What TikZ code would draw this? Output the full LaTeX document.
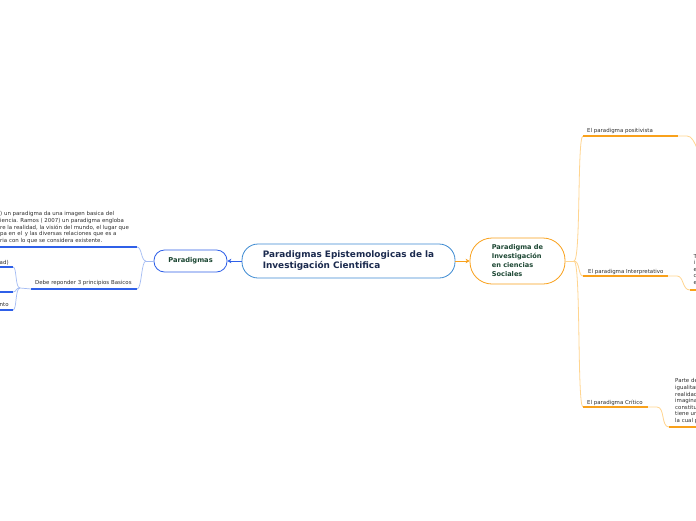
\documentclass[tikz,border=0pt]{standalone}
\usepackage{fontspec}
\setmainfont{DejaVu Sans}
\usetikzlibrary{arrows.meta}
\definecolor{blueA}{HTML}{2F60E8}
\definecolor{blueL}{HTML}{A3BBF3}
\definecolor{blueC}{HTML}{3C8AD2}
\definecolor{orA}{HTML}{F9A11B}
\definecolor{orL}{HTML}{FFD590}
\definecolor{navy}{HTML}{1B2A4E}
\definecolor{dgreen}{HTML}{1B4632}
\definecolor{txt}{HTML}{2E2E2E}
\tikzset{
  mainbox/.style={draw=blueC, line width=0.8pt, rounded corners=16pt, minimum width=213pt, minimum height=34pt, inner sep=0pt, align=left, text=navy, font=\fontsize{8.9}{11}\selectfont\bfseries},
  parbox/.style={draw=blueA, line width=0.8pt, rounded corners=10.5pt, minimum width=73pt, minimum height=22pt, inner sep=0pt, text=dgreen, font=\fontsize{6.7}{8}\selectfont\bfseries},
  socbox/.style={draw=orA, line width=0.8pt, rounded corners=22pt, minimum width=95pt, minimum height=46pt, inner sep=0pt, align=left, text=dgreen, font=\fontsize{6.6}{9}\selectfont\bfseries},
  small/.style={inner sep=0pt, text=txt, font=\fontsize{5.45}{6.6}\selectfont, align=left},
  bline/.style={draw=blueL, line width=0.7pt},
  bunder/.style={draw=blueA, line width=1.4pt},
  oline/.style={draw=orL, line width=0.8pt},
  ounder/.style={draw=orA, line width=1.4pt},
}
\begin{document}
\begin{tikzpicture}[x=1pt,y=-1pt]
\useasboundingbox (0,0) rectangle (696,520);
\fill[white] (0,0) rectangle (696,520);
\clip (0,0) rectangle (696,520);

% main nodes
\node[mainbox] (c) at (348.5,261) {Paradigmas Epistemologicas de la\\Investigación Cientifica};
\node[parbox] (p) at (190.5,261) {Paradigmas};
\node[socbox] (s) at (517.5,261) {Paradigma de\\Investigación\\en ciencias\\Sociales};

\draw[blueA, line width=0.8pt, -{Stealth[length=4pt,width=4.5pt]}] (c.west) -- (p.east);
\draw[orA, line width=0.8pt, -{Stealth[length=4pt,width=4.5pt]}] (c.east) -- (s.west);

% ---------- right side ----------
\coordinate (sj) at (574,261);
\coordinate (t1) at (583,136);
\coordinate (t2) at (678,136);
\coordinate (m1) at (583,276);
\coordinate (m2) at (668,276);
\coordinate (b1) at (583,407);
\coordinate (b2) at (648,407);

\draw[oline] (s.east) -- (sj);
\draw[oline] (sj) .. controls (581,261) and (577,136) .. (t1);
\draw[oline] (sj) .. controls (580,261) and (578,276) .. (m1);
\draw[oline] (sj) .. controls (581,261) and (577,407) .. (b1);

\draw[ounder] (t1) -- (t2);
\draw[ounder] (m1) -- (m2);
\draw[ounder] (b1) -- (b2);

\node[small, anchor=base west] (tl) at (587,132) {El paradigma positivista};
\node[small, anchor=base west] (ml) at (588,273) {El paradigma Interpretativo};
\node[small, anchor=base west] (bl) at (587,404) {El paradigma Crítico};

% continuations
\coordinate (t3) at (698,150);
\draw[oline] (t2) -- (687,136) .. controls (692,136) and (694,142) .. (t3);

\coordinate (m3) at (690,290);
\coordinate (m4) at (697,290);
\draw[oline] (m2) -- (677,276) .. controls (684,276) and (682,290) .. (m3);
\draw[ounder] (m3) -- (m4);
\node[small, anchor=north west] (mt) at (693.5,254) {T\\i\\e\\c\\e};

\coordinate (b3) at (669,427);
\coordinate (b4) at (697,427);
\draw[oline] (b2) -- (657,407) .. controls (665,407) and (661,427) .. (b3);
\draw[ounder] (b3) -- (b4);
\node[small, anchor=north west] (bt) at (675,378.5) {Parte de la\\igualitaria\\realidad se\\imaginaria\\constituye\\tiene una\\la cual par};

% ---------- left side ----------
\coordinate (pj) at (146,261);
\coordinate (u1) at (137,247);
\coordinate (u0) at (-2,247);
\coordinate (d1) at (137,289);
\coordinate (d2) at (31,289);
\draw[bline] (p.west) -- (pj);
\draw[bline] (pj) .. controls (141,261) and (142,247) .. (u1);
\draw[bline] (pj) .. controls (141,261) and (142,289) .. (d1);
\draw[bunder] (u1) -- (u0);
\draw[bunder] (d1) -- (d2);

\node[small, anchor=north west] (ut) at (0,211.5) {) un paradigma da una imagen basica del\\iencia. Ramos ( 2007) un paradigma engloba\\re la realidad, la visión del mundo, el lugar que\\pa en el\, y las diversas relaciones que es a\\ria con lo que se considera existente.};
\node[small, anchor=base west] (dt) at (35,284.5) {Debe reponder 3 principios Basicos};

\coordinate (dj) at (20,288);
\coordinate (e1) at (13,267);
\coordinate (e2) at (13,292);
\coordinate (e3) at (13,310);
\draw[bline] (d2) -- (dj);
\draw[bline] (dj) .. controls (15,288) and (17,267) .. (e1);
\draw[bline] (dj) .. controls (15,288) and (17,292) .. (e2);
\draw[bline] (dj) .. controls (15,288) and (17,310) .. (e3);
\draw[bunder] (e1) -- (-2,267);
\draw[bunder] (e2) -- (-2,292);
\draw[bunder] (e3) -- (-2,310);
\node[small, anchor=base west] (et1) at (-0.5,264) {ad)};
\node[small, anchor=base west] (et3) at (-0.5,306) {nto};
\end{tikzpicture}
\end{document}
